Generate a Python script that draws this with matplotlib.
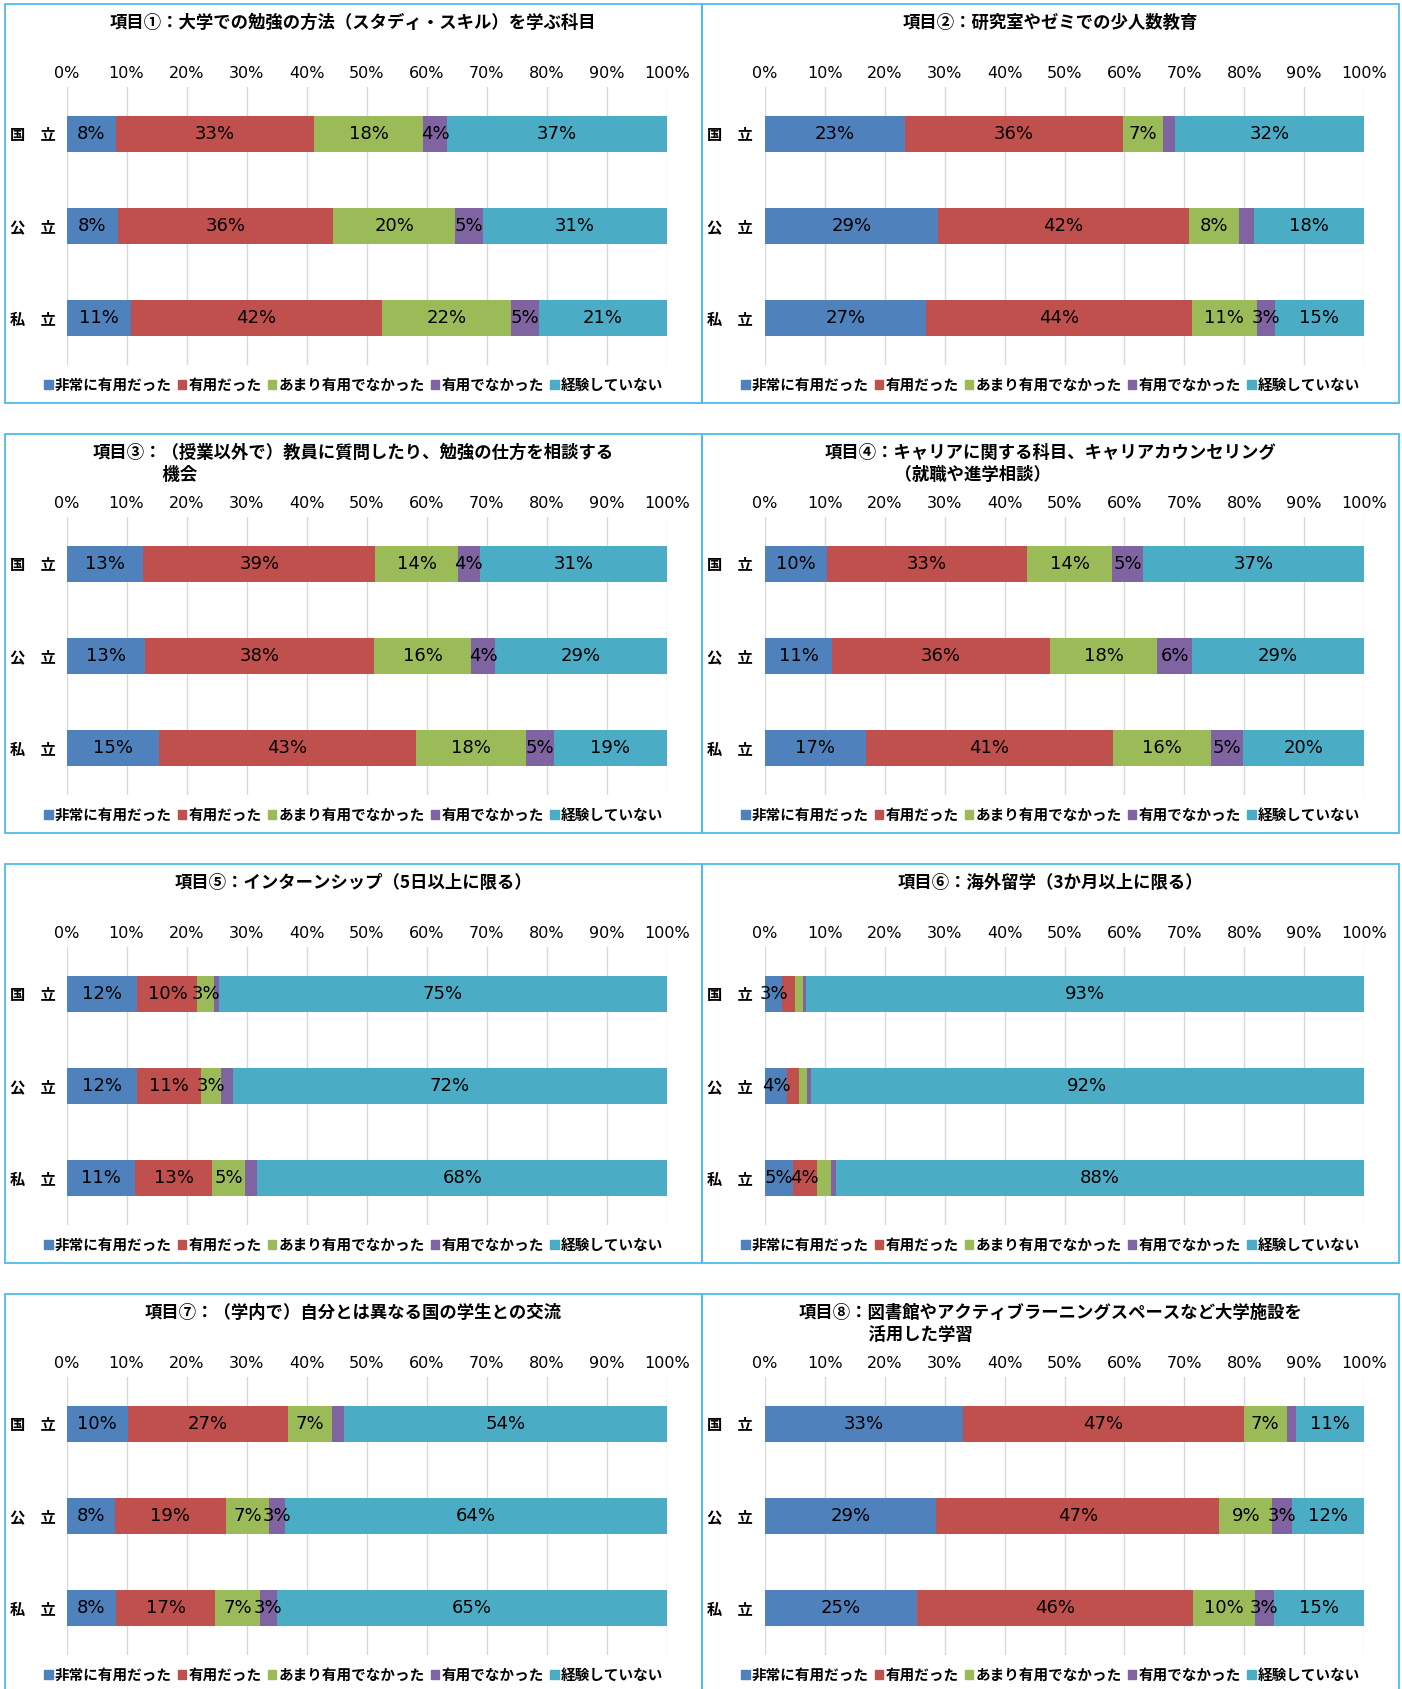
import matplotlib
matplotlib.use('Agg')
import matplotlib.pyplot as plt
from matplotlib.patches import Patch, Rectangle

# fonts: Japanese text needs the CJK family first
JP = ['Noto Sans CJK JP', 'DejaVu Sans']
plt.rcParams['font.family'] = ['DejaVu Sans', 'Noto Sans CJK JP']

categories = ['国　立', '公　立', '私　立']
series_names = ['非常に有用だった', '有用だった', 'あまり有用でなかった', '有用でなかった', '経験していない']
colors = ['#4F81BD', '#C0504D', '#9BBB59', '#8064A2', '#4BACC6']

titles = [
    '項目①：大学での勉強の方法（スタディ・スキル）を学ぶ科目',
    '項目②：研究室やゼミでの少人数教育',
    '項目③：（授業以外で）教員に質問したり、勉強の仕方を相談する\n　　　　機会',
    '項目④：キャリアに関する科目、キャリアカウンセリング\n　　　　（就職や進学相談）',
    '項目⑤：インターンシップ（5日以上に限る）',
    '項目⑥：海外留学（3か月以上に限る）',
    '項目⑦：（学内で）自分とは異なる国の学生との交流',
    '項目⑧：図書館やアクティブラーニングスペースなど大学施設を\n　　　　活用した学習',
]

# rows: 国立, 公立, 私立 ; columns: series_names order
item1 = [[8.3, 32.9, 18.2, 4.0, 36.6],
         [8.5, 35.9, 20.3, 4.7, 30.6],
         [10.8, 41.7, 21.5, 4.7, 21.3]]
item2 = [[23.3, 36.4, 6.8, 1.9, 31.6],
         [28.9, 41.9, 8.4, 2.4, 18.4],
         [26.9, 44.4, 10.8, 3.0, 14.9]]
item3 = [[12.8, 38.6, 13.8, 3.6, 31.2],
         [13.0, 38.2, 16.2, 4.0, 28.6],
         [15.4, 42.8, 18.3, 4.6, 18.9]]
item4 = [[10.3, 33.4, 14.3, 5.1, 36.9],
         [11.2, 36.4, 17.9, 5.8, 28.7],
         [16.8, 41.3, 16.4, 5.3, 20.2]]
item5 = [[11.8, 10.0, 2.8, 0.8, 74.6],
         [11.8, 10.6, 3.4, 1.9, 72.3],
         [11.4, 12.9, 5.4, 2.1, 68.2]]
item6 = [[2.9, 2.1, 1.4, 0.4, 93.2],
         [3.7, 2.0, 1.3, 0.6, 92.4],
         [4.6, 4.1, 2.4, 0.8, 88.1]]
item7 = [[10.2, 26.7, 7.3, 2.0, 53.8],
         [8.0, 18.6, 7.2, 2.6, 63.6],
         [8.2, 16.6, 7.4, 2.8, 65.0]]
item8 = [[33.1, 46.8, 7.2, 1.6, 11.3],
         [28.6, 47.2, 8.9, 3.2, 12.1],
         [25.4, 46.0, 10.4, 3.1, 15.1]]
items = [item1, item2, item3, item4, item5, item6, item7, item8]

W, H = 1402, 1689
fig = plt.figure(figsize=(W / 100, H / 100), dpi=100)

col_x0 = [5, 702]
ax_l = [61.5, 63]
ax_r = [662, 662]
row_top = [4, 434, 864, 1294]
pw, ph = 697, 399

for k, data in enumerate(items):
    r, c = divmod(k, 2)
    x0, top = col_x0[c], row_top[r]

    # panel frame
    fig.add_artist(Rectangle((x0 / W, 1 - (top + ph) / H), pw / W, ph / H,
                             transform=fig.transFigure, fill=False,
                             ec='#4DBCEB', lw=1.3))

    ax = fig.add_axes([(x0 + ax_l[c]) / W, 1 - (top + 361) / H,
                       (ax_r[c] - ax_l[c]) / W, 278 / H])
    for i, row in enumerate(data):
        left = 0
        for j, v in enumerate(row):
            ax.barh(i, v, left=left, height=0.4, color=colors[j], lw=0)
            if v >= 2.5:
                ax.text(left + v / 2, i, f'{v:.0f}%', ha='center', va='center',
                        fontsize=13, color='black')
            left += v

    ax.set_xlim(0, 100)
    ax.set_ylim(2.51, -0.51)
    ax.set_xticks(range(0, 101, 10))
    ax.set_xticklabels([f'{t}%' for t in range(0, 101, 10)], fontsize=11.5)
    ax.xaxis.tick_top()
    ax.set_yticks(range(3))
    ax.set_yticklabels(categories, family=JP, fontsize=11, fontweight='bold')
    ax.tick_params(axis='both', length=0)
    ax.tick_params(axis='x', pad=4)
    ax.tick_params(axis='y', pad=7.5 if c == 0 else 8.5)
    ax.grid(axis='x', color='#D9D9D9', lw=1)
    ax.set_axisbelow(True)
    for s in ax.spines.values():
        s.set_visible(False)

    # title
    two_lines = '\n' in titles[k]
    fig.text((x0 + pw / 2) / W, 1 - (top + (30 if two_lines else 19)) / H,
             titles[k], ha='center', va='center', multialignment='left',
             family=JP, fontsize=12.5, fontweight='bold', linespacing=1.27)

    handles = [Patch(color=col) for col in colors]
    ax.legend(handles, series_names, loc='center',
              bbox_to_anchor=((x0 + pw / 2) / W, 1 - (top + 381) / H),
              bbox_transform=fig.transFigure, ncol=5, frameon=False,
              handlelength=0.6, handleheight=0.6, handletextpad=0.15,
              columnspacing=0.4, borderpad=0,
              prop={'family': JP, 'weight': 'bold', 'size': 10.5})

fig.savefig('out.png', dpi=100)
